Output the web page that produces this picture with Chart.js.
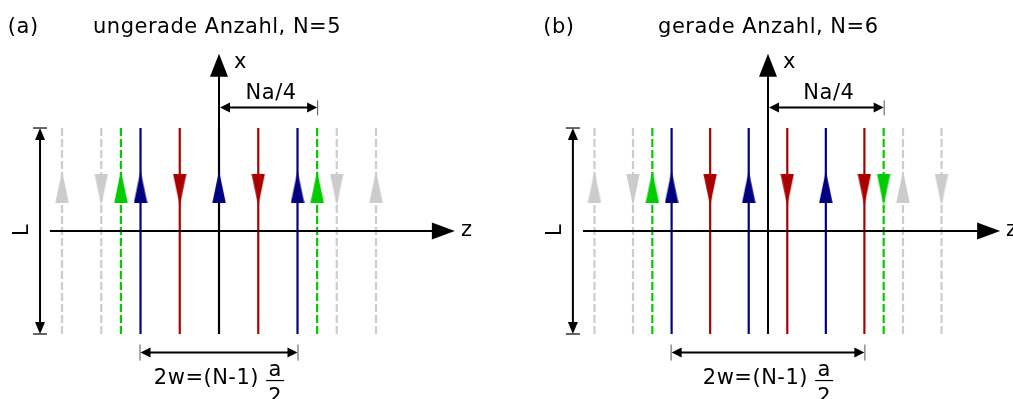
<!DOCTYPE html>
<html>
<head>
<meta charset="utf-8">
<script src="https://cdn.jsdelivr.net/npm/chart.js@4.4.1/dist/chart.umd.min.js"></script>
<style>
  html, body { margin: 0; padding: 0; background: #fff; overflow: hidden; }
  #wrap { position: relative; width: 1013px; height: 399px; }
  canvas { position: absolute; top: 0; }
</style>
</head>
<body>
<div id="wrap">
  <canvas id="chartA" width="506" height="399" style="left:0"></canvas>
  <canvas id="chartB" width="507" height="399" style="left:506px"></canvas>
</div>
<script>
// Leiterpositionen in Einheiten von a/2 (z-Richtung), Stromrichtung +1 = nach oben
var posA  = [-4, -3, -2.5, -2, -1, 0, 1, 2, 2.5, 3, 4];
var dirA  = [ 1, -1,  1,    1, -1, 1, -1, 1, 1,  -1, 1];
var kindA = ['bild', 'bild', 'rand', 'leiter', 'leiter', 'leiter', 'leiter', 'leiter', 'rand', 'bild', 'bild'];

var posB  = [-4.5, -3.5, -3, -2.5, -1.5, -0.5, 0.5, 1.5, 2.5, 3, 3.5, 4.5];
var dirB  = [ 1,   -1,    1,  1,   -1,    1,   -1,   1,  -1,  -1, 1,  -1];
var kindB = ['bild', 'bild', 'rand', 'leiter', 'leiter', 'leiter', 'leiter', 'leiter', 'leiter', 'rand', 'bild', 'bild'];

// Bemaßungen (Einheiten a/2)
var naViertelA = [0, 2.5];   // Na/4
var zweiWA     = [-2, 2];    // 2w
var naViertelB = [0, 3];
var zweiWB     = [-2.5, 2.5];

var titelA = ['(a)', 'ungerade Anzahl, N=5'];
var titelB = ['(b)', 'gerade Anzahl, N=6'];

var FONT = '"DejaVu Sans", sans-serif';
var farben = { blau: '#000080', rot: '#aa0000', gruen: '#00cc00', grau: '#cccccc' };

function farbe(kind, dir) {
  if (kind === 'bild') return farben.grau;
  if (kind === 'rand') return farben.gruen;
  return dir > 0 ? farben.blau : farben.rot;
}

// schlanke Pfeilspitze als Bild, Spitze oben
var spitzenCache = {};
function spitze(col) {
  if (spitzenCache[col]) return spitzenCache[col];
  var c = document.createElement('canvas');
  c.width = 14; c.height = 32;
  var g = c.getContext('2d');
  g.fillStyle = col;
  g.beginPath();
  g.moveTo(7, 0);
  g.lineTo(13.7, 32);
  g.lineTo(0.3, 32);
  g.closePath();
  g.fill();
  spitzenCache[col] = c;
  return c;
}

function pfeilkopf(ctx, x, y, dx, dy, len, hw, col) {
  var n = Math.sqrt(dx * dx + dy * dy); dx /= n; dy /= n;
  ctx.fillStyle = col;
  ctx.beginPath();
  ctx.moveTo(x, y);
  ctx.lineTo(x - dx * len - dy * hw, y - dy * len + dx * hw);
  ctx.lineTo(x - dx * len + dy * hw, y - dy * len - dx * hw);
  ctx.closePath();
  ctx.fill();
}

function linie(ctx, x1, y1, x2, y2, w, col) {
  ctx.strokeStyle = col;
  ctx.lineWidth = w;
  ctx.setLineDash([]);
  ctx.beginPath();
  ctx.moveTo(x1, y1);
  ctx.lineTo(x2, y2);
  ctx.stroke();
}

function baueDiagramm(id, pos, dir, kind, naViertel, zweiW, titel, lay) {
  var datasets = [];
  pos.forEach(function (p, i) {
    var col = farbe(kind[i], dir[i]);
    datasets.push({
      data: [{ x: p, y: -1 }, { x: p, y: 1 }],
      showLine: true,
      borderColor: col,
      borderWidth: 2.2,
      borderDash: kind[i] === 'leiter' ? [] : [8, 3],
      pointRadius: 0,
      order: 1
    });
  });
  var kopfIndex = datasets.length;
  datasets.push({
    data: pos.map(function (p, i) { return { x: p, y: dir[i] > 0 ? lay.kopfY : lay.kopfY - 0.03 }; }),
    showLine: false,
    pointRadius: 7,
    pointStyle: pos.map(function (p, i) { return spitze(farbe(kind[i], dir[i])); }),
    pointRotation: dir.map(function (d) { return d > 0 ? 0 : 180; }),
    order: 0
  });

  var deko = {
    id: 'deko',
    beforeDatasetDraw: function (chart, args) {
      if (args.index !== kopfIndex) return;
      var ctx = chart.ctx, xs = chart.scales.x, ys = chart.scales.y;
      var X = function (v) { return xs.getPixelForValue(v); };
      var Y = function (v) { return ys.getPixelForValue(v); };
      ctx.save();
      // x-Achse (senkrecht)
      linie(ctx, X(0), Y(-1), X(0), Y(lay.xSpitze) + 22, 2, '#000');
      pfeilkopf(ctx, X(0), Y(lay.xSpitze), 0, -1, 23, 9, '#000');
      // z-Achse (waagrecht)
      linie(ctx, X(lay.zStart), Y(0), X(lay.zEnde) - 22, Y(0), 2, '#000');
      pfeilkopf(ctx, X(lay.zEnde), Y(0), 1, 0, 23, 8.5, '#000');
      ctx.restore();
    },
    afterDatasetsDraw: function (chart) {
      var ctx = chart.ctx, xs = chart.scales.x, ys = chart.scales.y;
      var X = function (v) { return xs.getPixelForValue(v); };
      var Y = function (v) { return ys.getPixelForValue(v); };
      ctx.save();
      // L-Bemaßung
      var lx = X(lay.lX), lo = Y(1), lu = Y(-1);
      linie(ctx, lx, lo + 10, lx, lu - 10, 2, '#000');
      pfeilkopf(ctx, lx, lo, 0, -1, 12, 5, '#000');
      pfeilkopf(ctx, lx, lu, 0, 1, 12, 5, '#000');
      linie(ctx, lx - 7, lo, lx + 7, lo, 1.5, '#333');
      linie(ctx, lx - 7, lu, lx + 7, lu, 1.5, '#333');
      // Na/4
      var ny = Y(lay.naY), n1 = X(naViertel[0]), n2 = X(naViertel[1]);
      linie(ctx, n1 + 8, ny, n2 - 8, ny, 2, '#000');
      pfeilkopf(ctx, n1 + 1, ny, -1, 0, 10, 5, '#000');
      pfeilkopf(ctx, n2, ny, 1, 0, 10, 5, '#000');
      linie(ctx, n2 + 0.5, ny - 7, n2 + 0.5, ny + 8, 1, '#555');
      // 2w
      var wy = Y(lay.wY), w1 = X(zweiW[0]), w2 = X(zweiW[1]);
      linie(ctx, w1 + 8, wy, w2 - 8, wy, 2, '#000');
      pfeilkopf(ctx, w1, wy, -1, 0, 10, 5, '#000');
      pfeilkopf(ctx, w2, wy, 1, 0, 10, 5, '#000');
      linie(ctx, w1 - 0.5, wy - 8, w1 - 0.5, wy + 8, 1, '#555');
      linie(ctx, w2 + 0.5, wy - 8, w2 + 0.5, wy + 8, 1, '#555');

      // Texte
      ctx.fillStyle = '#000';
      ctx.font = '21px ' + FONT;
      ctx.letterSpacing = '0.5px';
      ctx.textBaseline = 'middle';
      ctx.textAlign = 'left';
      ctx.fillText(titel[0], X(lay.labelX), Y(lay.titelY));
      ctx.fillText(titel[1], X(lay.titelX), Y(lay.titelY));
      ctx.fillText('x', X(0) + 15, Y(lay.xSpitze) + 9);
      ctx.fillText('z', X(lay.zEnde) + 6, Y(0));
      ctx.textAlign = 'center';
      ctx.fillText('Na/4', (n1 + n2) / 2 + 3, ny - 14);
      // L gedreht
      ctx.save();
      ctx.translate(lx - 17, Y(0) - 1);
      ctx.rotate(-Math.PI / 2);
      ctx.fillText('L', 0, 0);
      ctx.restore();
      // 2w=(N-1) a/2
      var t = '2w=(N-1) ';
      var tw = ctx.measureText(t).width;
      var fw = 18;
      var start = X(0) - (tw + fw) / 2;
      var ty = wy + 26;
      ctx.textAlign = 'left';
      ctx.fillText(t, start, ty);
      var fx = start + tw + fw / 2;
      ctx.textAlign = 'center';
      ctx.fillText('a', fx, ty - 8);
      linie(ctx, fx - 9, ty + 2, fx + 9, ty + 2, 1.2, '#000');
      ctx.fillStyle = '#000';
      ctx.fillText('2', fx, ty + 19);
      ctx.restore();
    }
  };

  return new Chart(document.getElementById(id), {
    type: 'scatter',
    data: { datasets: datasets },
    options: {
      responsive: false,
      animation: false,
      layout: { padding: 0, autoPadding: false },
      plugins: { legend: { display: false }, tooltip: { enabled: false }, title: { display: false } },
      scales: {
        x: { type: 'linear', display: false, min: lay.xMin, max: lay.xMax },
        y: { type: 'linear', display: false, min: lay.yMin, max: lay.yMax }
      }
    },
    plugins: [deko]
  });
}

// Lage der Elemente (y in Einheiten L/2, x in a/2)
var layA = { xMin: -5.580, xMax: 7.312, yMin: -1.631, yMax: 2.243,
  kopfY: 0.43, xSpitze: 1.72, zStart: -4.31, zEnde: 6.01, lX: -4.56,
  naY: 1.20, wY: -1.18, titelY: 1.98, labelX: -5.38, titelX: -3.21 };
var layB = { xMin: -6.795, xMax: 6.354, yMin: -1.631, yMax: 2.243,
  kopfY: 0.43, xSpitze: 1.72, zStart: -4.80, zEnde: 6.02, lX: -5.06,
  naY: 1.20, wY: -1.18, titelY: 1.98, labelX: -5.83, titelX: -2.85 };

baueDiagramm('chartA', posA, dirA, kindA, naViertelA, zweiWA, titelA, layA);
baueDiagramm('chartB', posB, dirB, kindB, naViertelB, zweiWB, titelB, layB);
</script>
</body>
</html>
